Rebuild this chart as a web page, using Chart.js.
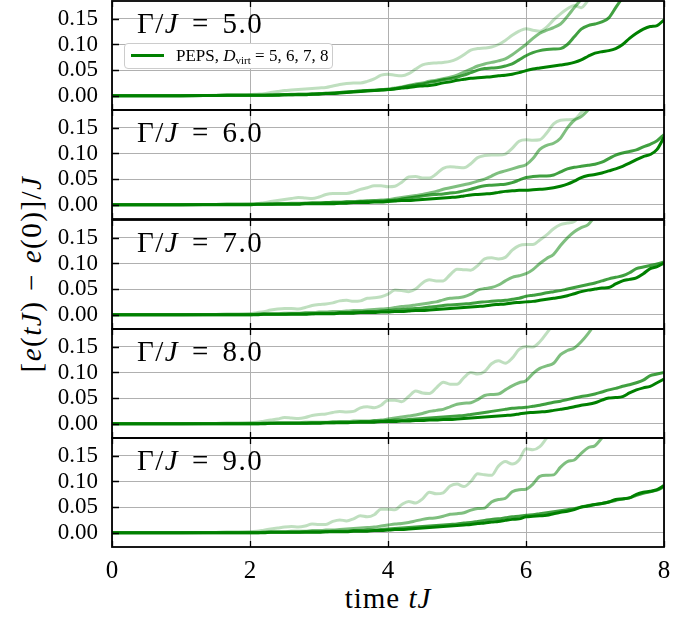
<!DOCTYPE html>
<html>
<head>
<meta charset="utf-8">
<script src="https://cdn.jsdelivr.net/npm/chart.js@4.4.0/dist/chart.umd.min.js"></script>
<style>
  body { margin: 0; background: #fff; width: 695px; height: 617px; position: relative; overflow: hidden; font-family: 'Liberation Serif', serif; }
  canvas { position: absolute; left: 0; }
  .glabel { position: absolute; left: 137px; font-size: 29px; line-height: 28px; white-space: nowrap; color: #000; word-spacing: 4px; letter-spacing: 1.5px; }
  .legend { position: absolute; left: 124px; top: 43px; width: 207px; height: 24px; border: 1px solid #cccccc; border-radius: 4px; background: #fff; font-size: 17px; white-space: nowrap; }
  .legend .swatch { position: absolute; left: 6px; top: 10px; width: 33px; height: 3px; background: #008000; }
  .legend .txt { position: absolute; left: 51px; top: 2px; line-height: 20px; }
  .legend sub { font-size: 11px; vertical-align: -3px; }
  .ytitle { position: absolute; left: -119px; top: 258px; width: 300px; text-align: center; font-size: 29px; line-height: 32px; letter-spacing: 1.5px; word-spacing: 1px; transform: rotate(-90deg); white-space: nowrap; }
  .xtitle { position: absolute; left: 238px; top: 582px; width: 300px; text-align: center; font-size: 29px; line-height: 32px; letter-spacing: 1px; white-space: nowrap; }
</style>
</head>
<body>
<div class="ytitle">[<i>e</i>(<i>tJ</i>) &minus; <i>e</i>(0)]/<i>J</i></div>
<div class="xtitle">time <i>tJ</i></div>

<script>
// time axis shared by all panels
const timeGrid = [0, 0.5, 1.0, 1.5,
  2.0, 2.1, 2.2, 2.3, 2.4, 2.5, 2.6, 2.7, 2.8, 2.9,
  3.0, 3.1, 3.2, 3.3, 3.4, 3.5, 3.6, 3.7, 3.8, 3.9,
  4.0, 4.1, 4.2, 4.3, 4.4, 4.5, 4.6, 4.7, 4.8, 4.9,
  5.0, 5.1, 5.2, 5.3, 5.4, 5.5, 5.6, 5.7, 5.8, 5.9,
  6.0, 6.1, 6.2, 6.3, 6.4, 6.5, 6.6, 6.7, 6.8, 6.9,
  7.0, 7.1, 7.2, 7.3, 7.4, 7.5, 7.6, 7.7, 7.8, 7.9,
  8.0];

const gammaLabels = ['5.0', '6.0', '7.0', '8.0', '9.0'];
const dVirt = [5, 6, 7, 8];
const xTicks = [0, 2, 4, 6, 8];
const yTicks = [0, 0.05, 0.10, 0.15];

// Gamma/J = 5.0
const g5d5 = [0, 0, 0, 0.001,
  0.002, 0.003, 0.004, 0.006, 0.008, 0.010, 0.011, 0.012, 0.013, 0.014,
  0.015, 0.016, 0.019, 0.022, 0.024, 0.025, 0.025, 0.028, 0.033, 0.040,
  0.042, 0.040, 0.039, 0.043, 0.052, 0.060, 0.063, 0.064, 0.065, 0.067,
  0.072, 0.080, 0.089, 0.092, 0.093, 0.095, 0.100, 0.108, 0.118, 0.126,
  0.131, 0.128, 0.126, 0.134, 0.148, 0.160, 0.170, 0.176, 0.172, 0.186,
  0.200];
const g5d6 = [0, 0, 0, 0.0005,
  0.001, 0.001, 0.001, 0.002, 0.002, 0.002, 0.003, 0.003, 0.003, 0.004,
  0.004, 0.005, 0.005, 0.006, 0.007, 0.008, 0.009, 0.010, 0.011, 0.012,
  0.013, 0.015, 0.017, 0.020, 0.023, 0.025, 0.028, 0.030, 0.033, 0.036,
  0.040, 0.046, 0.052, 0.058, 0.062, 0.065, 0.068, 0.072, 0.080, 0.090,
  0.100, 0.112, 0.122, 0.128, 0.133, 0.140, 0.155, 0.172, 0.188, 0.200];
const g5d7 = [0, 0, 0, 0.0005,
  0.001, 0.001, 0.001, 0.001, 0.002, 0.002, 0.002, 0.003, 0.003, 0.003,
  0.004, 0.004, 0.005, 0.006, 0.007, 0.008, 0.009, 0.010, 0.010, 0.011,
  0.012, 0.014, 0.016, 0.019, 0.021, 0.023, 0.026, 0.028, 0.031, 0.033,
  0.036, 0.040, 0.045, 0.050, 0.053, 0.054, 0.055, 0.058, 0.062, 0.070,
  0.078, 0.084, 0.088, 0.090, 0.091, 0.092, 0.100, 0.115, 0.130, 0.137,
  0.140, 0.144, 0.152, 0.172, 0.192];
const g5d8 = [0, 0, 0, 0.0005,
  0.001, 0.001, 0.001, 0.001, 0.001, 0.002, 0.002, 0.002, 0.002, 0.003,
  0.003, 0.004, 0.004, 0.005, 0.006, 0.007, 0.008, 0.009, 0.010, 0.011,
  0.012, 0.013, 0.015, 0.016, 0.018, 0.019, 0.020, 0.022, 0.025, 0.027,
  0.030, 0.032, 0.034, 0.035, 0.036, 0.037, 0.039, 0.040, 0.042, 0.045,
  0.049, 0.052, 0.054, 0.056, 0.058, 0.060, 0.062, 0.065, 0.070, 0.077,
  0.083, 0.086, 0.088, 0.092, 0.100, 0.112, 0.122, 0.130, 0.135, 0.137,
  0.148];

// Gamma/J = 6.0
const g6d5 = [0, 0, 0, 0.0005,
  0.001, 0.002, 0.004, 0.006, 0.008, 0.010, 0.012, 0.014, 0.013, 0.012,
  0.015, 0.020, 0.022, 0.022, 0.022, 0.025, 0.030, 0.033, 0.037, 0.037,
  0.035, 0.036, 0.044, 0.054, 0.055, 0.052, 0.052, 0.060, 0.071, 0.074,
  0.073, 0.072, 0.080, 0.092, 0.096, 0.097, 0.097, 0.099, 0.110, 0.124,
  0.127, 0.126, 0.127, 0.140, 0.158, 0.165, 0.166, 0.167, 0.180, 0.195];
const g6d6 = [0, 0, 0, 0.0005,
  0.001, 0.001, 0.001, 0.002, 0.002, 0.002, 0.003, 0.003, 0.003, 0.004,
  0.004, 0.004, 0.005, 0.005, 0.006, 0.006, 0.007, 0.008, 0.008, 0.009,
  0.010, 0.012, 0.014, 0.016, 0.018, 0.020, 0.023, 0.026, 0.030, 0.033,
  0.036, 0.039, 0.042, 0.046, 0.050, 0.056, 0.062, 0.066, 0.070, 0.074,
  0.078, 0.090, 0.108, 0.116, 0.120, 0.130, 0.150, 0.165, 0.172, 0.185,
  0.200];
const g6d7 = [0, 0, 0, 0.0005,
  0.001, 0.001, 0.001, 0.001, 0.002, 0.002, 0.002, 0.002, 0.003, 0.003,
  0.003, 0.004, 0.004, 0.004, 0.005, 0.005, 0.006, 0.006, 0.007, 0.007,
  0.008, 0.009, 0.011, 0.013, 0.015, 0.017, 0.019, 0.020, 0.021, 0.023,
  0.024, 0.027, 0.030, 0.034, 0.037, 0.038, 0.039, 0.040, 0.043, 0.048,
  0.053, 0.055, 0.056, 0.056, 0.058, 0.064, 0.070, 0.073, 0.075, 0.077,
  0.079, 0.083, 0.090, 0.097, 0.101, 0.104, 0.107, 0.113, 0.118, 0.125,
  0.137];
const g6d8 = [0, 0, 0, 0,
  0.000, 0.001, 0.001, 0.001, 0.001, 0.001, 0.001, 0.001, 0.002, 0.002,
  0.002, 0.002, 0.002, 0.003, 0.003, 0.004, 0.004, 0.004, 0.005, 0.005,
  0.006, 0.007, 0.008, 0.008, 0.009, 0.010, 0.011, 0.012, 0.013, 0.014,
  0.015, 0.017, 0.019, 0.020, 0.021, 0.022, 0.024, 0.026, 0.027, 0.028,
  0.028, 0.029, 0.030, 0.031, 0.033, 0.036, 0.040, 0.046, 0.053, 0.057,
  0.059, 0.062, 0.066, 0.070, 0.075, 0.081, 0.088, 0.094, 0.098, 0.108,
  0.132];

// Gamma/J = 7.0
const g7d5 = [0, 0, 0, 0.0005,
  0.002, 0.004, 0.006, 0.009, 0.011, 0.012, 0.012, 0.011, 0.014, 0.018,
  0.020, 0.021, 0.023, 0.027, 0.028, 0.026, 0.027, 0.032, 0.033, 0.035,
  0.040, 0.048, 0.047, 0.045, 0.050, 0.062, 0.068, 0.066, 0.066, 0.078,
  0.089, 0.088, 0.087, 0.096, 0.109, 0.111, 0.109, 0.112, 0.126, 0.135,
  0.137, 0.137, 0.146, 0.156, 0.168, 0.176, 0.179, 0.182, 0.196];
const g7d6 = [0, 0, 0, 0.0005,
  0.001, 0.001, 0.002, 0.002, 0.002, 0.003, 0.003, 0.003, 0.004, 0.004,
  0.005, 0.005, 0.006, 0.006, 0.007, 0.008, 0.008, 0.009, 0.010, 0.011,
  0.012, 0.014, 0.016, 0.017, 0.019, 0.021, 0.023, 0.025, 0.029, 0.032,
  0.033, 0.035, 0.040, 0.048, 0.051, 0.053, 0.058, 0.066, 0.073, 0.076,
  0.080, 0.088, 0.100, 0.110, 0.118, 0.135, 0.150, 0.162, 0.170, 0.176,
  0.192, 0.205];
const g7d7 = [0, 0, 0, 0,
  0.000, 0.001, 0.001, 0.001, 0.001, 0.001, 0.002, 0.002, 0.002, 0.002,
  0.003, 0.003, 0.003, 0.004, 0.004, 0.005, 0.005, 0.006, 0.006, 0.007,
  0.008, 0.009, 0.010, 0.011, 0.012, 0.013, 0.015, 0.016, 0.018, 0.019,
  0.020, 0.021, 0.022, 0.024, 0.025, 0.026, 0.027, 0.028, 0.030, 0.032,
  0.036, 0.038, 0.040, 0.043, 0.045, 0.047, 0.050, 0.053, 0.056, 0.059,
  0.062, 0.066, 0.070, 0.073, 0.076, 0.082, 0.090, 0.093, 0.096, 0.099,
  0.103];
const g7d8 = [0, 0, 0, 0,
  0.000, 0.000, 0.001, 0.001, 0.001, 0.001, 0.001, 0.001, 0.001, 0.002,
  0.002, 0.002, 0.002, 0.003, 0.003, 0.003, 0.004, 0.004, 0.004, 0.005,
  0.005, 0.006, 0.006, 0.007, 0.008, 0.008, 0.009, 0.010, 0.011, 0.012,
  0.013, 0.014, 0.015, 0.016, 0.017, 0.019, 0.020, 0.021, 0.023, 0.024,
  0.025, 0.026, 0.028, 0.030, 0.032, 0.034, 0.037, 0.041, 0.045, 0.048,
  0.050, 0.052, 0.053, 0.060, 0.066, 0.069, 0.072, 0.080, 0.090, 0.094,
  0.101];

// Gamma/J = 8.0
const g8d5 = [0, 0, 0, 0.0005,
  0.002, 0.003, 0.005, 0.007, 0.009, 0.012, 0.011, 0.010, 0.012, 0.016,
  0.018, 0.019, 0.022, 0.024, 0.023, 0.024, 0.031, 0.033, 0.031, 0.036,
  0.046, 0.046, 0.043, 0.053, 0.064, 0.060, 0.059, 0.070, 0.081, 0.077,
  0.077, 0.090, 0.100, 0.097, 0.102, 0.117, 0.123, 0.118, 0.128, 0.145,
  0.151, 0.150, 0.160, 0.177, 0.195];
const g8d6 = [0, 0, 0, 0.0005,
  0.001, 0.001, 0.001, 0.001, 0.002, 0.002, 0.002, 0.002, 0.003, 0.003,
  0.003, 0.003, 0.004, 0.004, 0.004, 0.005, 0.005, 0.005, 0.006, 0.007,
  0.009, 0.011, 0.013, 0.015, 0.017, 0.020, 0.024, 0.026, 0.028, 0.033,
  0.038, 0.040, 0.041, 0.047, 0.055, 0.057, 0.058, 0.066, 0.074, 0.080,
  0.084, 0.098, 0.108, 0.113, 0.118, 0.135, 0.143, 0.148, 0.160, 0.176,
  0.195];
const g8d7 = [0, 0, 0, 0,
  0.000, 0.000, 0.001, 0.001, 0.001, 0.001, 0.001, 0.001, 0.001, 0.002,
  0.002, 0.002, 0.002, 0.003, 0.003, 0.003, 0.004, 0.004, 0.005, 0.005,
  0.006, 0.007, 0.007, 0.008, 0.009, 0.010, 0.011, 0.012, 0.013, 0.014,
  0.015, 0.016, 0.018, 0.020, 0.022, 0.024, 0.026, 0.028, 0.030, 0.031,
  0.032, 0.034, 0.036, 0.039, 0.042, 0.044, 0.047, 0.050, 0.053, 0.055,
  0.058, 0.062, 0.066, 0.069, 0.073, 0.076, 0.080, 0.085, 0.094, 0.097,
  0.100];
const g8d8 = [0, 0, 0, 0,
  0.000, 0.000, 0.000, 0.001, 0.001, 0.001, 0.001, 0.001, 0.001, 0.001,
  0.001, 0.002, 0.002, 0.002, 0.002, 0.003, 0.003, 0.003, 0.003, 0.004,
  0.004, 0.004, 0.005, 0.005, 0.006, 0.006, 0.007, 0.007, 0.008, 0.008,
  0.009, 0.010, 0.011, 0.012, 0.013, 0.014, 0.015, 0.016, 0.017, 0.019,
  0.021, 0.022, 0.023, 0.024, 0.026, 0.028, 0.030, 0.033, 0.036, 0.038,
  0.041, 0.046, 0.050, 0.051, 0.053, 0.060, 0.066, 0.070, 0.073, 0.080,
  0.087];

// Gamma/J = 9.0
const g9d5 = [0, 0, 0, 0.0005,
  0.002, 0.003, 0.005, 0.007, 0.009, 0.011, 0.012, 0.011, 0.013, 0.017,
  0.016, 0.016, 0.022, 0.025, 0.023, 0.027, 0.033, 0.031, 0.035, 0.046,
  0.046, 0.045, 0.055, 0.061, 0.058, 0.066, 0.079, 0.076, 0.078, 0.091,
  0.095, 0.090, 0.100, 0.115, 0.113, 0.112, 0.130, 0.139, 0.134, 0.142,
  0.164, 0.162, 0.168, 0.185, 0.200];
const g9d6 = [0, 0, 0, 0.0005,
  0.001, 0.001, 0.001, 0.002, 0.002, 0.002, 0.003, 0.003, 0.003, 0.004,
  0.004, 0.005, 0.005, 0.006, 0.007, 0.008, 0.009, 0.010, 0.011, 0.013,
  0.015, 0.017, 0.018, 0.020, 0.023, 0.026, 0.028, 0.029, 0.032, 0.036,
  0.037, 0.039, 0.044, 0.047, 0.048, 0.060, 0.065, 0.067, 0.080, 0.084,
  0.085, 0.095, 0.110, 0.112, 0.113, 0.128, 0.139, 0.142, 0.155, 0.166,
  0.170, 0.185, 0.200];
const g9d7 = [0, 0, 0, 0,
  0.000, 0.000, 0.001, 0.001, 0.001, 0.001, 0.001, 0.001, 0.002, 0.002,
  0.002, 0.002, 0.003, 0.003, 0.003, 0.004, 0.004, 0.005, 0.005, 0.006,
  0.007, 0.008, 0.009, 0.010, 0.011, 0.012, 0.013, 0.014, 0.015, 0.016,
  0.017, 0.019, 0.020, 0.022, 0.024, 0.026, 0.027, 0.029, 0.031, 0.032,
  0.034, 0.035, 0.037, 0.039, 0.041, 0.043, 0.045, 0.047, 0.050, 0.053,
  0.055, 0.057, 0.060, 0.063, 0.066, 0.068, 0.073, 0.077, 0.080, 0.083,
  0.090];
const g9d8 = [0, 0, 0, 0,
  0.000, 0.000, 0.000, 0.001, 0.001, 0.001, 0.001, 0.001, 0.001, 0.001,
  0.001, 0.002, 0.002, 0.002, 0.002, 0.003, 0.003, 0.003, 0.004, 0.004,
  0.005, 0.006, 0.006, 0.007, 0.008, 0.009, 0.010, 0.011, 0.012, 0.013,
  0.014, 0.015, 0.016, 0.018, 0.019, 0.021, 0.022, 0.024, 0.026, 0.027,
  0.031, 0.032, 0.033, 0.034, 0.037, 0.040, 0.042, 0.045, 0.050, 0.052,
  0.055, 0.057, 0.060, 0.065, 0.066, 0.068, 0.075, 0.079, 0.081, 0.084,
  0.092];

const panelSeries = [
  [g5d5, g5d6, g5d7, g5d8],
  [g6d5, g6d6, g6d7, g6d8],
  [g7d5, g7d6, g7d7, g7d8],
  [g8d5, g8d6, g8d7, g8d8],
  [g9d5, g9d6, g9d7, g9d8]
];

// styling, separate from data
const lineAlpha = [0.25, 0.5, 0.75, 1.0];
const panelTops = [0, 109, 219, 328, 437];
const serif = "'Liberation Serif', 'DejaVu Serif', serif";

// black frame plus inward ticks, like matplotlib
const framePlugin = {
  id: 'frame',
  afterDatasetsDraw(chart) {
    const { ctx, chartArea: a, scales } = chart;
    ctx.save();
    ctx.strokeStyle = '#000';
    ctx.lineWidth = 1.3;
    ctx.beginPath();
    xTicks.forEach(v => {
      const x = Math.round(scales.x.getPixelForValue(v)) + 0.5;
      ctx.moveTo(x, a.bottom); ctx.lineTo(x, a.bottom - 6);
      ctx.moveTo(x, a.top); ctx.lineTo(x, a.top + 6);
    });
    yTicks.forEach(v => {
      const y = Math.round(scales.y.getPixelForValue(v)) + 0.5;
      ctx.moveTo(a.left, y); ctx.lineTo(a.left + 7, y);
    });
    ctx.stroke();
    ctx.lineWidth = 1.8;
    ctx.strokeRect(a.left, a.top, a.width, a.height);
    ctx.restore();
  }
};

// stop chart.js from reserving room for half labels at the axis ends
function noEdgePadding(s) {
  s.paddingTop = 0;
  s.paddingBottom = 0;
  s.paddingLeft = 0;
  s.paddingRight = 0;
}

panelSeries.forEach((series, p) => {
  const isLast = p === panelSeries.length - 1;
  const canvas = document.createElement('canvas');
  const h = isLast ? 180 : 111;
  canvas.width = 695;
  canvas.height = h;
  canvas.style.top = panelTops[p] + 'px';
  document.body.appendChild(canvas);

  const lbl = document.createElement('div');
  lbl.className = 'glabel';
  lbl.style.top = (panelTops[p] + 9) + 'px';
  lbl.innerHTML = '&Gamma;/<i>J</i> = ' + gammaLabels[p];
  document.body.appendChild(lbl);

  new Chart(canvas, {
    type: 'line',
    data: {
      datasets: series.map((vals, k) => ({
        label: 'D=' + dVirt[k],
        data: vals.map((v, i) => ({ x: timeGrid[i], y: v })),
        borderColor: 'rgba(0,128,0,' + lineAlpha[k] + ')',
        borderWidth: 3,
        pointRadius: 0,
        cubicInterpolationMode: 'monotone',
        fill: false,
        clip: 0
      }))
    },
    options: {
      responsive: false,
      animation: false,
      devicePixelRatio: 1,
      layout: { padding: { left: 0, right: 31, top: 1, bottom: isLast ? 0 : 1 } },
      plugins: { legend: { display: false }, tooltip: { enabled: false } },
      scales: {
        x: {
          type: 'linear',
          min: 0,
          max: 8,
          afterBuildTicks: s => { s.ticks = xTicks.map(v => ({ value: v })); },
          afterFit: s => { s.height = isLast ? 70 : 0; noEdgePadding(s); },
          border: { display: false },
          grid: { color: '#b0b0b0', lineWidth: 1, drawTicks: false },
          ticks: {
            display: isLast,
            autoSkip: false,
            maxRotation: 0,
            padding: 9,
            color: '#000',
            font: { family: serif, size: 25 },
            callback: v => String(v)
          }
        },
        y: {
          min: -0.028,
          max: 0.185,
          afterBuildTicks: s => { s.ticks = yTicks.map(v => ({ value: v })); },
          afterFit: s => { s.width = 112; noEdgePadding(s); },
          border: { display: false },
          grid: { color: '#b0b0b0', lineWidth: 1, drawTicks: false },
          ticks: {
            autoSkip: false,
            padding: 14,
            color: '#000',
            font: { family: serif, size: 23 },
            callback: v => Number(v).toFixed(2)
          }
        }
      }
    },
    plugins: [framePlugin]
  });
});

// legend, first panel only
const legend = document.createElement('div');
legend.className = 'legend';
legend.innerHTML = '<span class="swatch"></span><span class="txt">PEPS, <i>D</i><sub>virt</sub> = 5, 6, 7, 8</span>';
document.body.appendChild(legend);
</script>
</body>
</html>
